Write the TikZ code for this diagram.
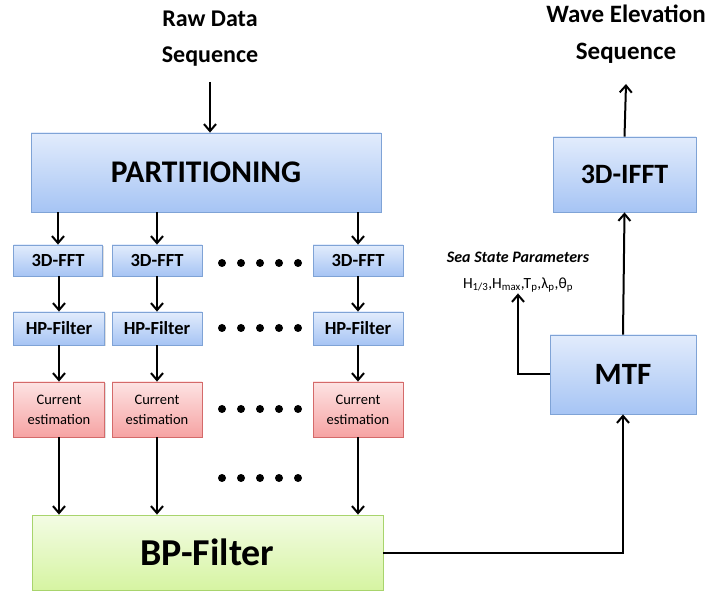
\documentclass[tikz,border=0pt]{standalone}
\usepackage{fontspec}
\setmainfont{Carlito}
\usetikzlibrary{arrows.meta,shadows}
\definecolor{bluetop}{HTML}{E2ECFC}
\definecolor{bluebot}{HTML}{A6C4F4}
\definecolor{blueedge}{HTML}{7FA3D6}
\definecolor{redtop}{HTML}{FDE3E3}
\definecolor{redbot}{HTML}{F6A3A3}
\definecolor{rededge}{HTML}{D46A6A}
\definecolor{greentop}{HTML}{F3FCE4}
\definecolor{greenbot}{HTML}{D6F4A2}
\definecolor{greenedge}{HTML}{A8D46C}
\tikzset{
  boxbase/.style={draw, line width=0.8pt, inner sep=0pt, align=center,
    drop shadow={opacity=0.25, shadow xshift=1.2pt, shadow yshift=-1.2pt}},
  bluebox/.style={boxbase, draw=blueedge, top color=bluetop, bottom color=bluebot},
  redbox/.style={boxbase, draw=rededge, top color=redtop, bottom color=redbot},
  greenbox/.style={boxbase, draw=greenedge, top color=greentop, bottom color=greenbot},
  arr/.style={line width=2pt, -{Straight Barb[length=7pt,width=12pt,line width=2pt]}},
  smallfont/.style={font=\fontsize{18.5}{20}\selectfont\bfseries},
  cefont/.style={font=\fontsize{14.5}{20}\selectfont},
  dot/.style={circle, fill=black, inner sep=0pt, minimum size=8pt}
}
\begin{document}
\begin{tikzpicture}[x=1pt,y=-1pt]
\useasboundingbox (0,0) rectangle (707,601);
% top labels
\node[align=center, font=\fontsize{24}{36}\selectfont\bfseries] (raw) at (210,39) {Raw Data\\Sequence};
\node[align=center, font=\fontsize{25}{37}\selectfont\bfseries] (wave) at (626,34) {Wave Elevation\\Sequence};
\coordinate (rawend) at (210,82);
\coordinate (waveend) at (626,84);
% main boxes
\node[bluebox, minimum width=350pt, minimum height=79pt, font=\fontsize{31.5}{33}\selectfont\bfseries] (part) at (206,172.5) {PARTITIONING};
\node[bluebox, minimum width=89pt, minimum height=31pt, smallfont] (fft1) at (58,260.5) {3D-FFT};
\node[bluebox, minimum width=90pt, minimum height=31pt, smallfont] (fft2) at (157,260.5) {3D-FFT};
\node[bluebox, minimum width=90pt, minimum height=31pt, smallfont] (fft3) at (358,260.5) {3D-FFT};
\node[bluebox, minimum width=91pt, minimum height=33pt, smallfont] (hp1) at (59,328.5) {HP-Filter};
\node[bluebox, minimum width=90pt, minimum height=33pt, smallfont] (hp2) at (157,328.5) {HP-Filter};
\node[bluebox, minimum width=90pt, minimum height=33pt, smallfont] (hp3) at (358,328.5) {HP-Filter};
\node[redbox, minimum width=91pt, minimum height=55pt, cefont] (ce1) at (59,409.5) {Current\\estimation};
\node[redbox, minimum width=90pt, minimum height=55pt, cefont] (ce2) at (157,409.5) {Current\\estimation};
\node[redbox, minimum width=90pt, minimum height=55pt, cefont] (ce3) at (358,409.5) {Current\\estimation};
\node[greenbox, minimum width=351pt, minimum height=75pt, font=\fontsize{38}{40}\selectfont\bfseries] (bp) at (207.5,552.5) {BP-Filter};
\node[bluebox, minimum width=143pt, minimum height=75pt, font=\fontsize{28}{30}\selectfont\bfseries] (ifft) at (624.5,174.5) {3D-IFFT};
\node[bluebox, minimum width=146pt, minimum height=79pt, font=\fontsize{31}{32}\selectfont\bfseries] (mtf) at (623,374.5) {MTF};
\node[align=center, inner sep=1pt, font=\fontsize{16}{26}\selectfont] (sea) at (518,272)
  {\textbf{\itshape Sea State Parameters}\\\fontsize{15.5}{26}\selectfont H\textsubscript{1/3},H\textsubscript{max},T\textsubscript{p},λ\textsubscript{p},θ\textsubscript{p}};
% dots
\foreach \yy/\nm in {263/a,328/b,409/c,478/d}{
  \foreach \xx [count=\i] in {222,241,260,279,298}{
    \node[dot] (dot\nm\i) at (\xx,\yy) {};
  }
}
% connectors
\draw[arr] (rawend) -- (part.north -| rawend);
\draw[arr] (ifft.north) -- (waveend);
\foreach \c in {1,2,3}{
  \draw[arr] (fft\c.north |- part.south) -- (fft\c.north);
  \draw[arr] (hp\c.north |- fft\c.south) -- (hp\c.north);
  \draw[arr] (hp\c.south) -- (ce\c.north);
  \draw[arr] (ce\c.south) -- (ce\c.south |- bp.north);
}
\draw[arr] (bp.east) -| (mtf.south);
\draw[arr] (mtf.north) -- (ifft.south);
\draw[arr] (mtf.west) -| (sea.south);
\end{tikzpicture}
\end{document}
